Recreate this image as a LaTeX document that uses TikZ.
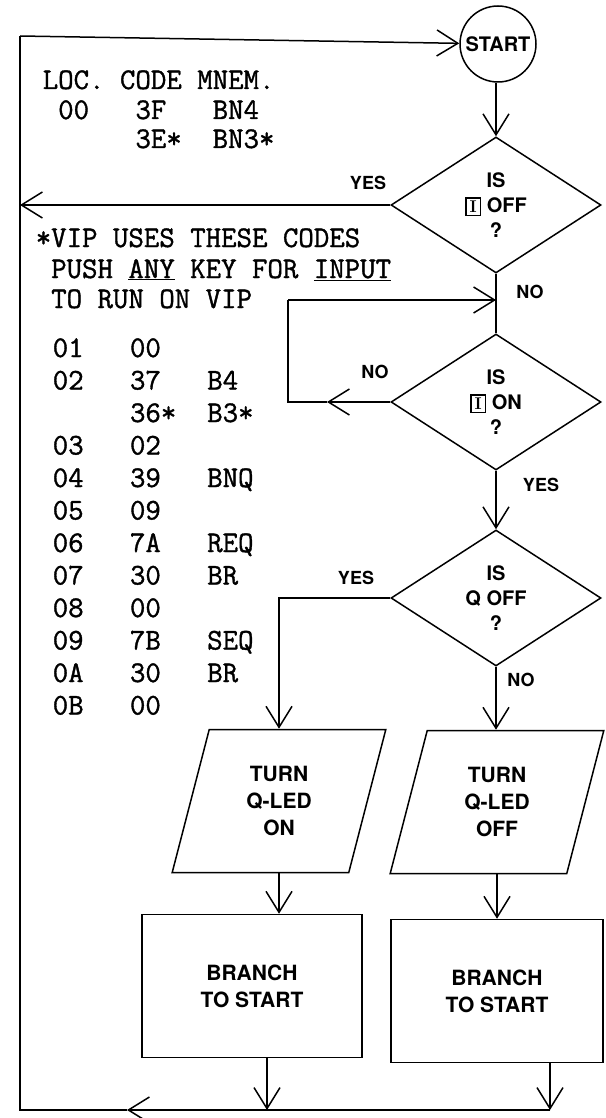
\documentclass[tikz,border=0pt]{standalone}
\usepackage{fontspec}
\setsansfont{TeX Gyre Heros}
\newfontfamily\typefont[FakeBold=1.2]{Latin Modern Mono}
\usepackage{tikz}
\usetikzlibrary{shapes.geometric, arrows.meta, positioning}

% boxed "I" used in the decision texts
\newcommand{\boxI}{{\fontsize{17}{17}\selectfont\setlength{\fboxsep}{2.2pt}%
  \setlength{\fboxrule}{1.3pt}\fbox{\makebox[9pt]{\rmfamily\bfseries I}}}}

\begin{document}
\begin{tikzpicture}[
    x=1pt, y=-1pt,
    line width=1.5pt,
    terminal/.style={circle, draw, minimum size=76pt, inner sep=0pt,
                     font=\sffamily\bfseries\fontsize{20}{24}\selectfont},
    decision/.style={diamond, draw, aspect=1.5, minimum width=210pt, minimum height=136pt,
                     inner sep=0pt, align=center,
                     font=\sffamily\bfseries\fontsize{20}{25}\selectfont},
    iobox/.style={trapezium, trapezium left angle=76, trapezium right angle=104,
                  trapezium stretches=true, draw, minimum width=216pt, minimum height=143pt,
                  inner sep=0pt, align=center,
                  font=\sffamily\bfseries\fontsize{21}{27}\selectfont},
    process/.style={rectangle, draw, minimum width=#1, minimum height=143pt, inner sep=0pt,
                    align=center, font=\sffamily\bfseries\fontsize{21}{27}\selectfont},
    process/.default={220pt},
    lbl/.style={font=\sffamily\bfseries\fontsize{18}{18}\selectfont, inner sep=0pt},
    listing/.style={anchor=base west, inner sep=0pt, font=\typefont\fontsize{30}{32}\selectfont},
    arr/.style={-{Straight Barb[length=21pt, width=26pt]}}
]
\useasboundingbox (0,0) rectangle (605,1118);

% --- Program listing ---
\node[listing] (hdr) at (42,89) {LOC.~CODE~MNEM.};
\node[listing] (h00) at (42,119) {~00~~~3F~~~BN4};
\node[listing] (h00b) at (42,148) {~~~~~~3E*~~BN3*};

\node[listing] (note1) at (35,247) {*VIP~USES~THESE~CODES};
\node[listing] (note2) at (35,278) {~PUSH~\underline{ANY}~KEY~FOR~\underline{INPUT}};
\node[listing] (note3) at (35,308) {~TO~RUN~ON~VIP};

\node[listing] (r01) at (52,357) {01~~~00};
\node[listing] (r02) at (52,389.5) {02~~~37~~~B4};
\node[listing] (r02b) at (52,422) {~~~~~36*~~B3*};
\node[listing] (r03) at (52,454.5) {03~~~02};
\node[listing] (r04) at (52,487) {04~~~39~~~BNQ};
\node[listing] (r05) at (52,519.5) {05~~~09};
\node[listing] (r06) at (52,552) {06~~~7A~~~REQ};
\node[listing] (r07) at (52,584.5) {07~~~30~~~BR};
\node[listing] (r08) at (52,617) {08~~~00};
\node[listing] (r09) at (52,649.5) {09~~~7B~~~SEQ};
\node[listing] (r0a) at (52,682) {0A~~~30~~~BR};
\node[listing] (r0b) at (52,714.5) {0B~~~00};

% --- Flowchart ---
\node[terminal] (start) at (498,44) {START};
\node[decision] (isoff) at (496,205) {IS\\\boxI\ OFF\\?};
\node[decision] (ison) at (496,402) {IS\\\boxI\ ON\\?};
\node[decision] (isq) at (496,598) {IS\\Q OFF\\?};
\node[iobox] (ledon) at (279,801) {TURN\\Q-LED\\ON};
\node[iobox] (ledoff) at (497,802) {TURN\\Q-LED\\OFF};
\node[process] (br1) at (252,986) {BRANCH\\TO START};
\node[process=212pt] (br2) at (497,991) {BRANCH\\TO START};

% --- Branch labels ---
\node[lbl] (yes1) at (368,183) {YES};
\node[lbl] (no1) at (530,292) {NO};
\node[lbl] (no2) at (375,372) {NO};
\node[lbl] (yes2) at (541,485) {YES};
\node[lbl] (yes3) at (356,578) {YES};
\node[lbl] (no3) at (521,680) {NO};

% --- Free ends of the connectors ---
\coordinate (tl) at (20,36);
\coordinate (bl) at (20,1110);
\coordinate (bothead) at (127,1110);
\coordinate (drop1) at (267,1110);
\coordinate (drop2) at (550,1110);
\coordinate (merge) at (496,300);
\coordinate (loopl) at (288,300);
\coordinate (nohead) at (327,402);

% --- Arrows ---
\draw[arr] (start.south -| isoff.north) -- (isoff.north);
\draw[arr] (isoff.west) -- (isoff.west -| tl);
\draw (isoff) -- (ison);
\draw[arr] (ison.west) -- (nohead);
\draw (nohead) -- (loopl |- ison.west) -- (loopl);
\draw[arr] (loopl) -- (merge);
\draw[arr] (ison) -- (isq);
\draw[arr] (isq.west) -| (ledon.north);
\draw[arr] (isq.south) -- (isq.south |- ledoff.north);
\draw[arr] (ledon.south) -- (ledon.south |- br1.north);
\draw[arr] (ledoff.south) -- (ledoff.south |- br2.north);
\draw[arr] (drop1 |- br1.south) -- (drop1);
\draw[arr] (drop2 |- br2.south) -- (drop2);

% --- Return path to START ---
\draw[arr] (drop2) -- (bothead);
\draw[line width=2.2pt] (bothead) -- (bl) -- (tl);
\draw[arr] (tl) -- (start);

\end{tikzpicture}
\end{document}
